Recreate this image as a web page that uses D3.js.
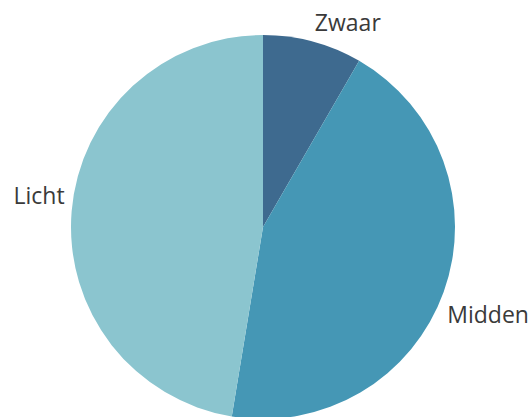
<!DOCTYPE html>
<html>
<head>
<meta charset="utf-8">
<script src="https://cdn.jsdelivr.net/npm/d3@7"></script>
<style>
  html, body { margin: 0; padding: 0; background: #fff; }
  svg { display: block; }
</style>
</head>
<body>
<div id="chart"></div>
<script>
// Categories and shares (percent)
const categories = ["Zwaar", "Midden", "Licht"];
const values = [8.35, 44.25, 47.4];
const colors = ["#3e6a8f", "#4597b5", "#8bc5cf"];

const width = 532;
const height = 417;
const cx = 263;
const cy = 227;
const radius = 192;

// Label nudges relative to a point just outside the slice middle (like Excel's best fit)
const labelNudge = {
    Zwaar: { dx: 0, dy: -3, anchor: "start" },
    Midden: { dx: -4, dy: 29, anchor: "start" },
    Licht: { dx: 1, dy: -7, anchor: "end" }
};

const data = categories.map((c, i) => ({ name: c, value: values[i], color: colors[i] }));

const svg = d3.select("#chart").append("svg").attr("width", width).attr("height", height);

const g = svg.append("g").attr("transform", `translate(${cx},${cy})`);

const pie = d3.pie().value(d => d.value).sort(null);
const arcs = pie(data);

const arc = d3.arc().innerRadius(0).outerRadius(radius);
const labelArc = d3.arc().innerRadius(radius + 8).outerRadius(radius + 8);

g.selectAll("path")
    .data(arcs)
    .enter()
    .append("path")
    .attr("d", arc)
    .attr("fill", d => d.data.color);

g.selectAll("text")
    .data(arcs)
    .enter()
    .append("text")
    .attr("x", d => labelArc.centroid(d)[0] + labelNudge[d.data.name].dx)
    .attr("y", d => labelArc.centroid(d)[1] + labelNudge[d.data.name].dy)
    .attr("text-anchor", d => labelNudge[d.data.name].anchor)
    .attr("font-family", "'Open Sans', 'Noto Sans', sans-serif")
    .attr("font-size", 23)
    .attr("fill", "#3a3a3a")
    .text(d => d.data.name);
</script>
</body>
</html>
